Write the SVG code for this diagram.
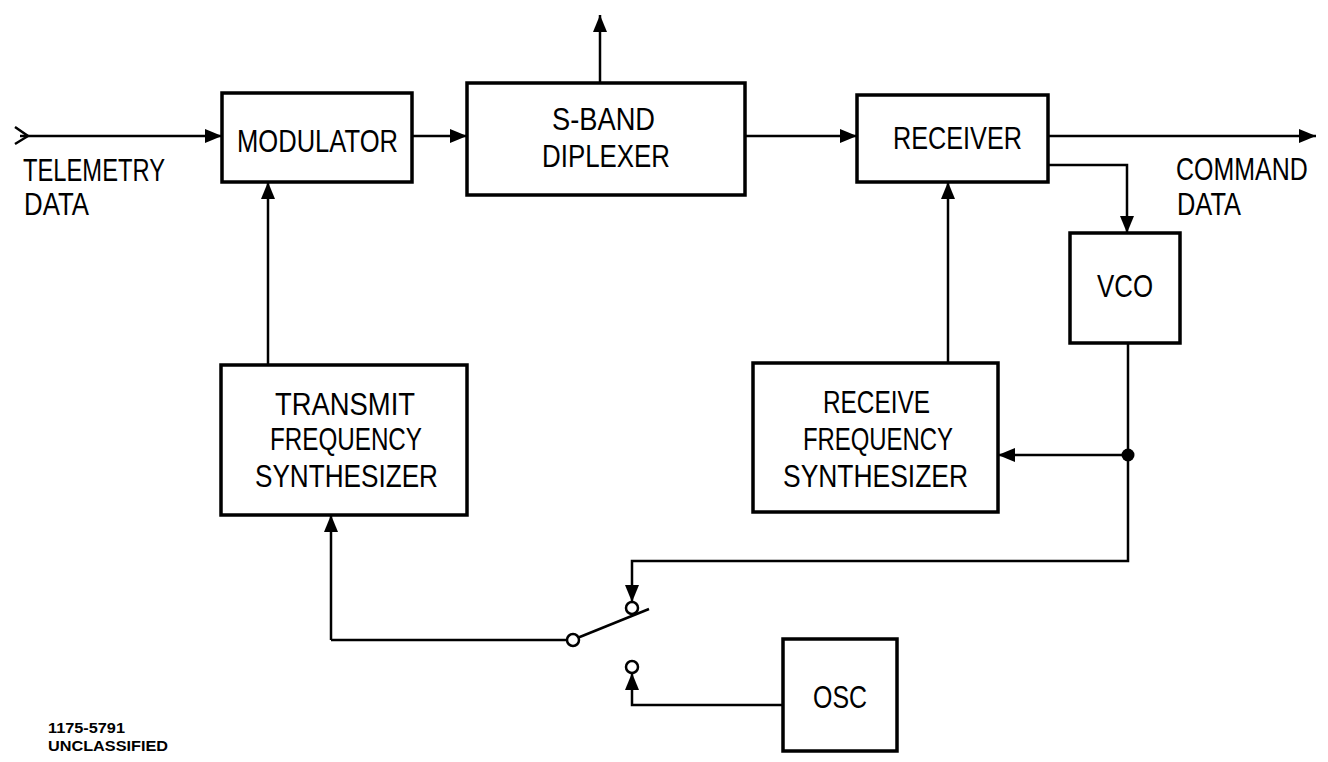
<svg xmlns="http://www.w3.org/2000/svg" width="1328" height="762" viewBox="0 0 1328 762">
<style>
.box{fill:#fff;stroke:#000;stroke-width:3.5}
.ln{fill:none;stroke:#000;stroke-width:2.5}
.arr{marker-end:url(#ah)}
.t{font-family:"Liberation Sans",Arial,sans-serif;font-size:32px;fill:#000}
.f{font-family:"Liberation Sans",Arial,sans-serif;font-weight:bold;font-size:14px;fill:#000}
</style>
<defs>
<marker id="ah" viewBox="0 0 17 14" refX="17" refY="7" markerWidth="17" markerHeight="14" markerUnits="userSpaceOnUse" orient="auto">
<path d="M0,0 L17,7 L0,14 z" fill="#000"/>
</marker>
</defs>
<g id="connectors">
<path class="ln" d="M15,127 L28,136 L15,144"/>
<path class="ln arr" d="M20,136 H222"/>
<path class="ln arr" d="M412,136 H467"/>
<path class="ln arr" d="M600,83 V15"/>
<path class="ln arr" d="M745,136 H857"/>
<path class="ln arr" d="M1048,136 H1316"/>
<path class="ln arr" d="M1048,165 H1127 V233"/>
<path class="ln arr" d="M268,365 V182"/>
<path class="ln arr" d="M948,363 V182"/>
<path class="ln arr" d="M1128,343 V561 H632 V602"/>
<path class="ln arr" d="M1128,455 H998"/>
<circle cx="1128" cy="455" r="6.5" fill="#000"/>
<path class="ln arr" d="M331,640 V515"/>
<path class="ln" d="M331,640 H567"/>
<path class="ln" d="M578.5,637.5 L649,609"/>
<circle cx="573" cy="640" r="6" fill="#fff" stroke="#000" stroke-width="2.5"/>
<circle cx="632" cy="608" r="6" fill="#fff" stroke="#000" stroke-width="2.5"/>
<circle cx="632" cy="667" r="6" fill="#fff" stroke="#000" stroke-width="2.5"/>
<path class="ln arr" d="M783,705 H632 V673"/>
</g>
<g id="modulator"><rect class="box" x="222" y="93" width="190" height="89"/><text class="t" x="237" y="152" textLength="161" lengthAdjust="spacingAndGlyphs">MODULATOR</text></g>
<g id="diplexer"><rect class="box" x="467" y="83" width="278" height="112"/><text class="t" x="552" y="130" textLength="103" lengthAdjust="spacingAndGlyphs">S-BAND</text><text class="t" x="542" y="167" textLength="128" lengthAdjust="spacingAndGlyphs">DIPLEXER</text></g>
<g id="receiver"><rect class="box" x="857" y="95" width="191" height="87"/><text class="t" x="893" y="149" textLength="129" lengthAdjust="spacingAndGlyphs">RECEIVER</text></g>
<g id="vco"><rect class="box" x="1070" y="233" width="110" height="110"/><text class="t" x="1097" y="297" textLength="56" lengthAdjust="spacingAndGlyphs">VCO</text></g>
<g id="transmit-synth"><rect class="box" x="221" y="365" width="246" height="150"/><text class="t" x="275" y="415" textLength="140" lengthAdjust="spacingAndGlyphs">TRANSMIT</text><text class="t" x="270" y="450" textLength="152" lengthAdjust="spacingAndGlyphs">FREQUENCY</text><text class="t" x="255" y="487" textLength="183" lengthAdjust="spacingAndGlyphs">SYNTHESIZER</text></g>
<g id="receive-synth"><rect class="box" x="753" y="363" width="245" height="149"/><text class="t" x="823" y="413" textLength="107" lengthAdjust="spacingAndGlyphs">RECEIVE</text><text class="t" x="803" y="450" textLength="150" lengthAdjust="spacingAndGlyphs">FREQUENCY</text><text class="t" x="783" y="487" textLength="185" lengthAdjust="spacingAndGlyphs">SYNTHESIZER</text></g>
<g id="osc"><rect class="box" x="783" y="639" width="114" height="112"/><text class="t" x="813" y="708" textLength="54" lengthAdjust="spacingAndGlyphs">OSC</text></g>
<g id="labels">
<text class="t" x="23" y="181" textLength="142" lengthAdjust="spacingAndGlyphs">TELEMETRY</text>
<text class="t" x="24" y="215" textLength="65" lengthAdjust="spacingAndGlyphs">DATA</text>
<text class="t" transform="translate(1176,180) scale(0.78,1)">COMMAND</text>
<text class="t" x="1177" y="215" textLength="64" lengthAdjust="spacingAndGlyphs">DATA</text>
<text class="f" x="48" y="733" textLength="77" lengthAdjust="spacingAndGlyphs">1175-5791</text>
<text class="f" x="48" y="751" textLength="120" lengthAdjust="spacingAndGlyphs">UNCLASSIFIED</text>
</g>
</svg>
